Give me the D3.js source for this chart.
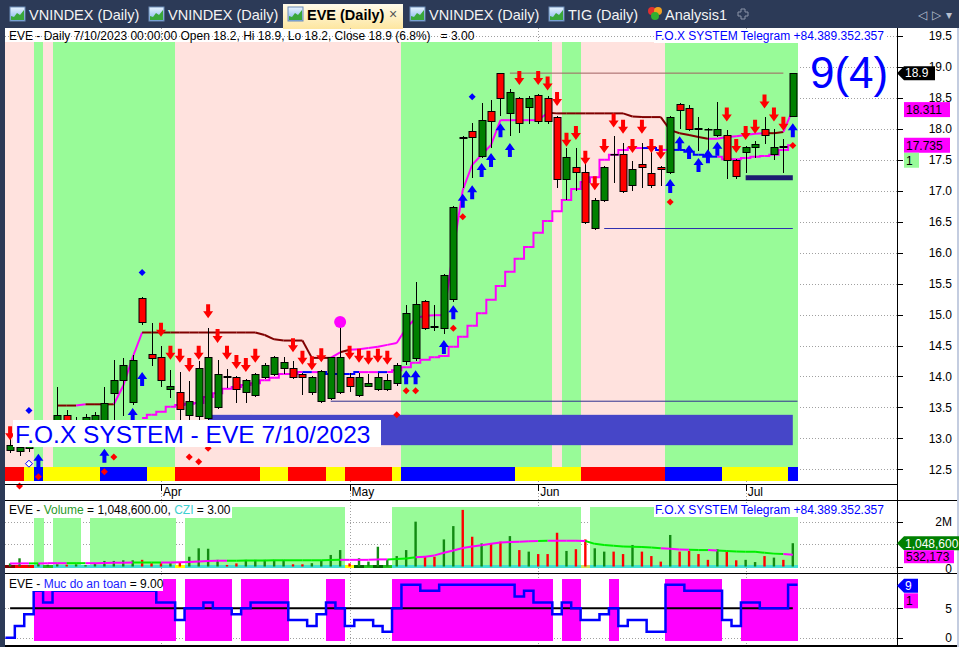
<!DOCTYPE html>
<html lang="en">
<head>
<meta charset="UTF-8">
<script src="https://d3js.org/d3.v7.min.js"></script>
<style>
  body { margin: 0; background: #fff; }
  svg { display: block; font-family: "Liberation Sans", Arial, sans-serif; }
</style>
</head>
<body>
<svg id="chart" width="959" height="647"></svg>
<script>
// ---------- data ----------
const dates = [
  "2023-03-10","2023-03-13","2023-03-14","2023-03-15","2023-03-16","2023-03-17","2023-03-20","2023-03-21","2023-03-22","2023-03-23",
  "2023-03-24","2023-03-27","2023-03-28","2023-03-29","2023-03-30","2023-03-31","2023-04-03","2023-04-04","2023-04-05","2023-04-06",
  "2023-04-07","2023-04-10","2023-04-11","2023-04-12","2023-04-13","2023-04-14","2023-04-17","2023-04-18","2023-04-19","2023-04-20",
  "2023-04-21","2023-04-24","2023-04-25","2023-04-26","2023-04-27","2023-04-28","2023-05-04","2023-05-05","2023-05-08","2023-05-09",
  "2023-05-10","2023-05-11","2023-05-12","2023-05-15","2023-05-16","2023-05-17","2023-05-18","2023-05-19","2023-05-22","2023-05-23",
  "2023-05-24","2023-05-25","2023-05-26","2023-05-29","2023-05-30","2023-05-31","2023-06-01","2023-06-02","2023-06-05","2023-06-06",
  "2023-06-07","2023-06-08","2023-06-09","2023-06-12","2023-06-13","2023-06-14","2023-06-15","2023-06-16","2023-06-19","2023-06-20",
  "2023-06-21","2023-06-22","2023-06-23","2023-06-26","2023-06-27","2023-06-28","2023-06-29","2023-06-30","2023-07-03","2023-07-04",
  "2023-07-05","2023-07-06","2023-07-07","2023-07-10"];

const open = [12.81,12.8,12.85,13.0,13.1,13.25,13.38,13.2,13.25,13.25, 13.3,13.74,13.94,13.59,15.27,14.36,14.31,13.8,13.75,13.38,
  13.36,13.33,13.51,14.0,13.99,13.75,13.7,13.99,14.04,14.14, 14.14,14.04,13.75,13.6,13.65,13.75,13.99,13.7,13.85,13.8,
  13.8,13.89,14.25,14.3,15.22,14.81,14.78,15.25,17.87,17.97, 17.56,18.29,18.9,18.26,18.5,18.35,18.55,18.5,18.19,17.19,
  17.38,17.3,16.4,16.85,17.6,17.59,17.09,17.43,17.29,17.38, 17.3,18.4,18.34,18.01,18.0,17.9,17.9,17.5,17.63,17.71,
  18.0,17.59,17.72,18.2];
const high = [13.0,12.9,13.05,13.15,13.3,13.83,13.46,13.35,13.4,13.42, 13.83,14.27,14.3,14.35,15.28,14.86,14.49,14.1,14.07,13.92,
  14.25,14.78,14.27,14.12,14.0,13.96,14.06,14.22,14.33,14.31, 14.25,14.05,14.0,14.1,14.32,14.86,14.06,14.06,14.04,14.06,
  14.04,14.22,15.15,15.53,15.23,15.15,15.66,16.76,17.88,18.09, 18.42,18.47,18.9,18.64,18.52,18.53,18.56,18.53,18.2,17.69,
  17.69,17.45,16.88,17.4,17.88,17.77,17.48,17.77,17.77,17.4, 18.2,18.41,18.39,18.19,18.02,18.43,17.98,17.51,17.72,17.8,
  18.19,18.0,17.84,18.9];
const low = [12.78,12.73,12.8,12.95,13.05,13.2,13.2,13.15,13.2,13.2, 13.2,13.3,13.38,13.55,14.85,14.18,13.85,13.67,13.31,13.31,
  13.31,13.3,13.49,13.83,13.59,13.59,13.68,13.98,14.02,14.06, 13.98,13.72,13.72,13.58,13.63,13.73,13.77,13.69,13.84,13.78,
  13.78,13.86,14.2,14.27,14.77,14.75,14.7,15.22,17.06,17.22, 17.54,17.71,18.22,17.9,17.95,18.09,18.09,18.09,17.06,16.87,
  17.01,16.48,16.38,16.83,17.14,16.98,17.01,17.06,17.06,17.09, 17.28,18.01,17.98,17.66,17.66,17.89,17.21,17.21,17.3,17.55,
  17.77,17.51,17.3,18.2];
const close = [12.9,12.86,13.0,13.1,13.2,13.38,13.25,13.3,13.35,13.38, 13.57,13.94,14.18,14.27,14.88,14.3,13.94,13.85,13.47,13.6,
  14.14,14.31,14.04,13.99,13.8,13.94,14.04,14.18,14.31,14.23, 13.99,13.99,13.99,14.09,14.31,14.31,13.85,13.99,13.9,13.99,
  13.94,14.18,15.03,15.17,14.78,14.8,15.64,16.74,17.86,17.87, 18.14,18.13,18.5,18.6,18.09,18.5,18.13,18.13,17.19,17.55,
  17.3,16.5,16.85,17.38,17.59,17.0,17.35,17.38,17.09,17.35, 18.19,18.3,18.0,18.0,17.99,18.0,17.5,17.24,17.71,17.76,
  17.9,17.71,17.71,18.9];

// volume in millions and its average
const volume = [0.14,0.37,0.05,0.14,0.08,0.1,0.08,0.1,0.06,0.15, 0.25,0.25,0.28,0.28,0.3,0.15,0.15,0.15,0.2,0.44,
  0.82,0.8,0.3,0.07,0.14,0.3,0.3,0.3,0.3,0.3, 0.1,0.1,0.15,0.27,0.52,0.74,0.14,0.37,0.22,0.89,
  0.3,0.47,0.74,2.02,0.47,0.44,1.22,1.82,2.55,1.34, 1.04,1.04,1.12,1.37,0.74,0.67,0.56,0.56,1.52,0.7,
  0.78,1.22,0.82,0.67,0.67,0.56,0.97,0.67,0.47,0.22, 1.42,0.67,0.7,0.56,0.3,0.78,0.67,0.28,0.3,0.2,
  0.47,0.4,0.3,1.0486];
const volAvg = [0.13,0.14,0.14,0.14,0.15,0.15,0.15,0.15,0.15,0.15, 0.16,0.17,0.17,0.18,0.18,0.18,0.18,0.18,0.19,0.2,
  0.22,0.25,0.26,0.26,0.26,0.27,0.27,0.27,0.28,0.28, 0.28,0.28,0.28,0.28,0.29,0.3,0.3,0.3,0.3,0.32,
  0.32,0.34,0.36,0.42,0.44,0.5,0.62,0.72,0.83,0.9, 0.96,1.02,1.08,1.1,1.12,1.14,1.15,1.16,1.16,1.16,
  1.16,1.15,1.02,0.97,0.93,0.9,0.89,0.88,0.86,0.82, 0.8,0.77,0.75,0.74,0.74,0.72,0.7,0.68,0.67,0.66,
  0.62,0.58,0.56,0.532173];
const volAvgColor = ("mmmgmmmggmmmmmgggmmmmmmmggggggggggggmmmmmgggmmmmmmmmmmmmmgmmmmggggggggmmmggmggggggg" + "m").split("");

// trailing lines in price pane
const trailUp = [null,null,null,null,null,13.53,13.53,13.53,13.55,13.55, 13.55,13.55,13.85,14.31,14.71,14.71,14.71,14.71,14.71,14.71,
  14.71,14.71,14.71,14.71,14.71,14.71,14.71,14.67,14.6,14.58, 14.58,14.58,14.3,14.3,14.3,14.39,14.43,14.44,14.46,14.48,
  14.51,14.54,14.78,14.94,14.98,14.99,14.99,16.04,17.01,17.42, 17.58,17.74,18.14,18.14,18.14,18.14,18.14,18.26,18.25,18.25,
  18.25,18.25,18.25,18.25,18.25,18.25,18.2,18.19,18.19,18.19, 17.98,17.93,17.9,17.87,17.84,17.84,17.87,17.88,17.9,17.92,
  17.93,17.93,17.95,18.311];
const trailUpColor = ("------rrmrrrmmm" + "rrrrrrrrrrrrrrrrrrrr" + "mr" + "mmmmmmmmmmmmmmmmmmmmm" + "rrrrrrrrrrrrrrrrr" + "mmmmmm" + "rrm").split("");
const trailLo = [null,null,null,null,null,null,null,null,null,null, null,null,null,null,13.33,13.38,13.43,13.51,13.54,13.56,
  13.57,13.67,13.73,13.8,13.83,13.86,13.89,13.94,13.98,14.04, 14.04,14.07,14.07,14.07,14.04,14.04,14.04,14.07,14.07,14.07,
  14.07,14.1,14.15,14.22,14.27,14.31,14.33,14.48,14.64,14.82, 15.02,15.24,15.46,15.69,15.9,16.09,16.32,16.51,16.67,16.85,
  17.03,17.14,17.22,17.5,17.58,17.66,17.69,17.69,17.69,17.66, 17.66,17.66,17.63,17.58,17.55,17.55,17.51,17.51,17.53,17.55,
  17.56,17.58,17.66,17.735];
const trailLoColor = ("--------------" + "mmmmmmmmmmmmmmmmmm" + "bm" + "bbbb" + "mm" + "b" + "mmmmmmmmmmmmmmmmmmmmmmmmmmm" + "bb" + "m" + "bbbbb" + "mmmmmmmm").split("");

// safety level ("Muc do an toan")
const safety = [0,2,4,8,6,8,8,8,8,8, 8,8,8,8,8,8,6,6,3,5, 5,6,5,5,4,5,6,6,6,6,
  3,3,2,4,6,5,2,3,3,2, 1,5,9,9,8,8,9,9,9,9, 9,9,9,9,7,8,6,6,4,6,
  5,3,3,4,5,2,3,3,1,1, 9,9,8,8,8,8,3,2,6,6, 5,5,5,9];

// zone flags per bar
const priceZone = ("PPPGP" + "GGGGGGGGGGGGG" + "PPPPPPPPPPPPPPPPPPPPPPPP" + "GGGGGGGGGGGGGGGG" + "P" + "GG" + "PPPPPPPPP" + "GGGGGGGGGGGGGG").split("");
const volZone = ("WWWGW" + "GGG" + "W" + "GGGGGGGGG" + "W" + "GGGGGGGGGGGGGGGGG" + "WWWWW" + "GGGGGGGGGGGGGGGGGGGG" + "W" + "GGGGGGGGGGGGGGGGGGGGGG").split("");
const safeZone = ("WWW" + "MMMMMMMMMMMMMMM" + "W" + "MMMMM" + "W" + "MMMMM" + "WWWW" + "MM" + "WWWWW" + "MMMMMMMMMMMMMMMMM" + "W" + "MM" + "WWW" + "M" + "WWWWW" + "MMMMMM" + "WW" + "MMMMMM").split("");
const trendStrip = ("RRYB" + "YYYYYY" + "BBBBB" + "YYY" + "RRRRRRRRR" + "YYY" + "RRRR" + "YY" + "RRRRR" + "Y" + "BBBBBBBBBBBB" + "YYYYYYY" + "RRRRRRRRR" + "BBBBBB" + "YYYYYYY" + "B").split("");
const cziStrip = ("DRRcG" + "ccccccccccccc" + "Y" + "ccccccccccccccccc" + "YKGKG" + "cccccccccccccccccccc" + "L" + "cccccccccccccccccccccc").split("");

// signals: [bar, price]
const sellSignals = [[0,12.97],[16,14.64],[17,14.27],[18,14.22],[19,14.07],[20,14.27],[21,14.94],[22,14.54],[23,14.27],[24,14.12],
  [25,14.07],[26,14.22],[30,14.39],[31,14.19],[32,14.1],[33,14.23],[36,14.27],[37,14.22],[38,14.19],[39,14.22],[40,14.19],
  [54,18.71],[56,18.71],[57,18.62],[58,18.37],[59,17.71],[60,17.82],[61,17.42],[62,17.01],[63,17.61],[64,18.02],[65,17.92],
  [66,17.61],[67,17.92],[68,17.61],[69,17.51],[76,18.12],[77,17.61],[78,17.82],[79,17.92],[80,18.33],[81,18.12],[82,17.97]];
const buySignals = [[3,12.75],[10,12.83],[13,13.49],[14,14.07],[42,14.1],[43,14.1],[46,14.59],[47,15.15],[48,16.95],[49,17.09],
  [50,17.45],[51,17.61],[52,18.09],[53,17.77],[70,17.19],[71,17.88],[72,17.74],[73,17.53],[74,17.67],[75,17.79],[83,18.09]];
const redDots = [[1,12.23],[3,12.38],[10,12.46],[11,12.7],[19,12.7],[20,12.62],[21,12.84],[41,13.38],[42,13.77],[43,13.77],
  [47,14.78],[48,16.58],[70,16.82],[83,17.73]];
const blueDots = [[2,13.45],[14,15.68],[49,18.52]];
const hollowDots = [[2,12.59]];
const circleSignals = [[35,14.88]];

// levels: [fromBar, toBar, price]
const peakLevel = [53, 82, 18.9];
const floorLevel = [63, 83, 16.39];
const baseLevel = [34, 83.5, 13.6];
const stopLevel = [78, 83, 17.21];
const cloud = [21, 83, 13.38, 12.89];

const priceTicks = d3.range(12.5, 19.51, 0.5);

// ---------- drawing ----------
const W = 959, H = 647;
const svg = d3.select("#chart");
const defs = svg.append("defs");
const tg = defs.append("linearGradient").attr("id", "tabGrad").attr("x1", 0).attr("y1", 0).attr("x2", 0).attr("y2", 1);
tg.append("stop").attr("offset", "0%").attr("stop-color", "#fffbea");
tg.append("stop").attr("offset", "100%").attr("stop-color", "#fde6a0");
const ig = defs.append("linearGradient").attr("id", "icoGrad").attr("x1", 0).attr("y1", 0).attr("x2", 0).attr("y2", 1);
ig.append("stop").attr("offset", "0%").attr("stop-color", "#e8f4ff");
ig.append("stop").attr("offset", "100%").attr("stop-color", "#7fb2ea");

const x = d3.scaleLinear().domain([0, dates.length - 1]).range([10.1, 792.8]);
const step = x(1) - x(0);
const yP = d3.scaleLinear().domain([12.5, 19.5]).range([469.3, 36]);
const yV = d3.scaleLinear().domain([0, 2]).range([566.5, 522.1]);
const yS = d3.scaleLinear().domain([0, 9]).range([637.7, 584.8]);
const AX = 897;

svg.append("rect").attr("width", W).attr("height", H).attr("fill", "#fff");

// tab bar
svg.append("rect").attr("width", W).attr("height", 28).attr("fill", "#2c3a57");
svg.append("rect").attr("x", 0).attr("y", 28).attr("width", 5).attr("height", H - 28).attr("fill", "#2c3a57");
svg.append("rect").attr("x", 283).attr("y", 4).attr("width", 120).attr("height", 25).attr("fill", "url(#tabGrad)");

const tabs = [
  {label: "VNINDEX (Daily)", x: 10}, {label: "VNINDEX (Daily)", x: 149},
  {label: "EVE (Daily)", x: 288, active: true}, {label: "VNINDEX (Daily)", x: 410}, {label: "TIG (Daily)", x: 549}];
tabs.forEach(t => {
  const ic = svg.append("g").attr("transform", `translate(${t.x},7)`);
  ic.append("rect").attr("width", 15).attr("height", 14).attr("fill", "url(#icoGrad)").attr("stroke", "#6b8cb8");
  ic.append("path").attr("d", "M1,13 L1,9 L4,10 L7,6 L10,8 L14,3 L14,13 Z").attr("fill", "#3aa83a");
  svg.append("text").attr("x", t.x + 19).attr("y", 19.5)
    .attr("font-size", "14.5px")
    .attr("font-weight", t.active ? "bold" : "normal")
    .attr("fill", t.active ? "#000" : "#f4f4f4").text(t.label);
});
svg.append("text").attr("x", 389).attr("y", 19).attr("font-size", "14px").attr("fill", "#555").text("×");
const an = svg.append("g");
an.append("circle").attr("cx", 652).attr("cy", 11).attr("r", 4).attr("fill", "#e03030");
an.append("circle").attr("cx", 658).attr("cy", 11).attr("r", 4).attr("fill", "#f0a020");
an.append("circle").attr("cx", 655).attr("cy", 16).attr("r", 4).attr("fill", "#30b030");
svg.append("text").attr("x", 665).attr("y", 19.5).attr("font-size", "14.5px").attr("fill", "#f4f4f4").text("Analysis1");
svg.append("path").attr("d", "M741,9 h4 v3 h3 v4 h-3 v3 h-4 v-3 h-3 v-4 h3 Z")
  .attr("fill", "none").attr("stroke", "#8a93a8");
svg.append("text").attr("x", 918).attr("y", 19).attr("font-size", "12px").attr("fill", "#b8c0d0").text("◁");
svg.append("text").attr("x", 932).attr("y", 19).attr("font-size", "12px").attr("fill", "#b8c0d0").text("▷");
svg.append("text").attr("x", 946).attr("y", 19).attr("font-size", "12px").attr("fill", "#b8c0d0").text("▾");

// grids
const grid = svg.append("g").attr("stroke", "#a0a0a0").attr("stroke-dasharray", "1,2");
priceTicks.forEach(t => grid.append("line").attr("x1", 5).attr("x2", AX).attr("y1", Math.round(yP(t)) + 0.5).attr("y2", Math.round(yP(t)) + 0.5));
[0, 1, 2].forEach(t => grid.append("line").attr("x1", 5).attr("x2", AX).attr("y1", Math.round(yV(t)) + 0.5).attr("y2", Math.round(yV(t)) + 0.5));
[0, 5].forEach(t => grid.append("line").attr("x1", 5).attr("x2", AX).attr("y1", Math.round(yS(t)) + 0.5).attr("y2", Math.round(yS(t)) + 0.5));
const monthStarts = [];
dates.forEach((d, i) => { if (i > 0 && d.slice(5, 7) !== dates[i - 1].slice(5, 7)) monthStarts.push(i); });
monthStarts.forEach(i => grid.append("line").attr("x1", Math.round(x(i)) + 0.5).attr("x2", Math.round(x(i)) + 0.5).attr("y1", 28).attr("y2", 646));

// zone bands
function bands(codes, colors, y0, y1) {
  svg.append("g").attr("shape-rendering", "crispEdges").selectAll("rect")
    .data(codes.map((c, i) => ({c, i})).filter(d => colors[d.c]))
    .join("rect")
    .attr("x", d => x(d.i) - step / 2).attr("width", step + 0.4)
    .attr("y", y0).attr("height", y1 - y0)
    .attr("fill", d => colors[d.c]);
}
bands(priceZone, {G: "#98fb98", P: "#ffe2de"}, 42, 467);
bands(trendStrip, {R: "#ff0000", Y: "#ffff00", B: "#0000ff"}, 467, 481);
bands(volZone, {G: "#98fb98"}, 507, 565);
bands(cziStrip, {c: "#40e0d0", D: "#800000", R: "#ff0000", G: "#20c020", K: "#006400", Y: "#ffff00", L: "#c8e060"}, 565, 568);
bands(safeZone, {M: "#ff00ff"}, 579, 641);

// cloud & levels
svg.append("rect").attr("x", x(cloud[0])).attr("width", x(cloud[1]) - x(cloud[0]))
  .attr("y", yP(cloud[2])).attr("height", yP(cloud[3]) - yP(cloud[2])).attr("fill", "#4646c8");
function level(lv, color, w) {
  svg.append("line").attr("x1", x(lv[0])).attr("x2", x(lv[1]))
    .attr("y1", yP(lv[2])).attr("y2", yP(lv[2])).attr("stroke", color).attr("stroke-width", w);
}
level(peakLevel, "#a06060", 1);
level(floorLevel, "#3030b0", 1.2);
level(baseLevel, "#303090", 1);
level(stopLevel, "#1c1c70", 5);

// trailing lines
const lineColors = {r: "#800000", m: "#ff00ff", b: "#0000ff", g: "#00ee00"};
const lin = d3.line().x(d => x(d[0])).y(d => d[1]);
trailUp.forEach((v, i) => {
  if (i === 0 || v == null || trailUp[i - 1] == null) return;
  svg.append("path").attr("d", lin([[i - 1, yP(trailUp[i - 1])], [i, yP(v)]]))
    .attr("fill", "none").attr("stroke", lineColors[trailUpColor[i]]).attr("stroke-width", 2);
});
const stepLine = d3.line().x(d => x(d[0])).y(d => d[1]).curve(d3.curveStep);
trailLo.forEach((v, i) => {
  if (i === 0 || v == null || trailLo[i - 1] == null) return;
  svg.append("path").attr("d", stepLine([[i - 1, yP(trailLo[i - 1])], [i, yP(v)]]))
    .attr("fill", "none").attr("stroke", lineColors[trailLoColor[i]]).attr("stroke-width", 2);
});

// candles
const candles = svg.append("g");
dates.forEach((d, i) => {
  const cx = Math.round(x(i)) + 0.5;
  candles.append("line").attr("x1", cx).attr("x2", cx)
    .attr("y1", Math.round(yP(high[i]))).attr("y2", Math.round(yP(low[i])) + 1)
    .attr("stroke", "#000");
  const top = Math.round(yP(Math.max(open[i], close[i]))) + 0.5;
  const bot = Math.round(yP(Math.min(open[i], close[i]))) + 0.5;
  candles.append("rect").attr("x", cx - 3.5).attr("width", 7)
    .attr("y", top).attr("height", Math.max(0.5, bot - top))
    .attr("fill", close[i] >= open[i] ? "#008000" : "#ff0000").attr("stroke", "#000");
});

// signals
const downArrow = "M-2,-14 H2 V-7 H5 L0,0 L-5,-7 H-2 Z";
const upArrow = "M-2,14 H2 V7 H5 L0,0 L-5,7 H-2 Z";
const diamond = "M0,-3.5 L3.5,0 L0,3.5 L-3.5,0 Z";
sellSignals.forEach(([i, p]) => svg.append("path").attr("d", downArrow)
  .attr("transform", `translate(${x(i)},${yP(p)})`).attr("fill", "#ff0000"));
buySignals.forEach(([i, p]) => svg.append("path").attr("d", upArrow)
  .attr("transform", `translate(${x(i)},${yP(p)})`).attr("fill", "#0000ff"));
redDots.forEach(([i, p]) => svg.append("path").attr("d", diamond)
  .attr("transform", `translate(${x(i)},${yP(p)})`).attr("fill", "#ff0000"));
blueDots.forEach(([i, p]) => svg.append("path").attr("d", diamond)
  .attr("transform", `translate(${x(i)},${yP(p)})`).attr("fill", "#0000ff"));
hollowDots.forEach(([i, p]) => svg.append("path").attr("d", diamond)
  .attr("transform", `translate(${x(i)},${yP(p)})`).attr("fill", "#fff").attr("stroke", "#0000ff"));
circleSignals.forEach(([i, p]) => svg.append("circle").attr("cx", x(i)).attr("cy", yP(p)).attr("r", 6).attr("fill", "#ff00ff"));

// overlay texts in price pane
svg.append("rect").attr("x", 13).attr("y", 420).attr("width", 368).attr("height", 27).attr("fill", "#fff");
svg.append("text").attr("x", 15).attr("y", 443).attr("font-size", "24.5px").attr("fill", "#0000ff").text("F.O.X SYSTEM - EVE 7/10/2023");
svg.append("text").attr("x", 810).attr("y", 88).attr("font-size", "44px").attr("fill", "#0000ff").text("9(4)");
svg.append("text").attr("x", 9).attr("y", 39.5).attr("font-size", "12px").attr("fill", "#000")
  .text("EVE - Daily 7/10/2023 00:00:00 Open 18.2, Hi 18.9, Lo 18.2, Close 18.9 (6.8%)\u00a0\u00a0\u00a0= 3.00");
function telegram(y) {
  svg.append("rect").attr("x", 654).attr("y", y - 11).attr("width", 233).attr("height", 14).attr("fill", "#fff");
  svg.append("text").attr("x", 655).attr("y", y).attr("font-size", "12px").attr("fill", "#0000ff")
    .text("F.O.X SYSTEM Telegram +84.389.352.357");
}
telegram(40);

// volume pane
const vol = svg.append("g");
volume.forEach((v, i) => vol.append("rect").attr("x", x(i) - 1.2).attr("width", 2.4)
  .attr("y", yV(v)).attr("height", yV(0) - yV(v))
  .attr("fill", close[i] >= open[i] ? "#128a12" : "#ff0000"));
volAvg.forEach((v, i) => {
  if (i === 0) return;
  svg.append("path").attr("d", lin([[i - 1, yV(volAvg[i - 1])], [i, yV(v)]]))
    .attr("fill", "none").attr("stroke", volAvgColor[i] === "g" ? "#00ee00" : "#ff00ff").attr("stroke-width", 2);
});
svg.append("rect").attr("x", 6).attr("y", 503).attr("width", 226).attr("height", 15).attr("fill", "#fff");
const vt = svg.append("text").attr("x", 9).attr("y", 514).attr("font-size", "12px");
vt.append("tspan").attr("fill", "#000").text("EVE - ");
vt.append("tspan").attr("fill", "#2a9a2a").text("Volume");
vt.append("tspan").attr("fill", "#000").text(" = 1,048,600.00, ");
vt.append("tspan").attr("fill", "#40d0d0").text("CZI");
vt.append("tspan").attr("fill", "#000").text(" = 3.00");
telegram(514);

// safety pane
const stepPts = [];
safety.forEach((v, i) => { stepPts.push([x(i) - step / 2, yS(v)], [x(i) + step / 2, yS(v)]); });
svg.append("line").attr("x1", x(0)).attr("x2", x(dates.length - 1)).attr("y1", yS(5)).attr("y2", yS(5))
  .attr("stroke", "#000").attr("stroke-width", 2);
svg.append("path").attr("d", d3.line()(stepPts)).attr("fill", "none").attr("stroke", "#0000ff").attr("stroke-width", 2.5);
svg.append("rect").attr("x", 6).attr("y", 576).attr("width", 157).attr("height", 15).attr("fill", "#fff");
const st = svg.append("text").attr("x", 9).attr("y", 587.5).attr("font-size", "12px");
st.append("tspan").attr("fill", "#000").text("EVE - ");
st.append("tspan").attr("fill", "#2020ff").text("Muc do an toan");
st.append("tspan").attr("fill", "#000").text(" = 9.00");

// frames and axes
const fr = svg.append("g").attr("stroke", "#000").attr("shape-rendering", "crispEdges");
fr.append("line").attr("x1", 5).attr("x2", AX).attr("y1", 484.5).attr("y2", 484.5);
[500.5, 573.5, 646].forEach(y => fr.append("line").attr("x1", 5).attr("x2", W).attr("y1", y).attr("y2", y).attr("stroke-width", 1.5));
fr.append("line").attr("x1", AX + 0.5).attr("x2", AX + 0.5).attr("y1", 28).attr("y2", H);
svg.append("rect").attr("x", 957).attr("y", 28).attr("width", 2).attr("height", H - 28).attr("fill", "#c4cde0");

const fmt = d3.format(".1f");
priceTicks.forEach(t => {
  fr.append("line").attr("x1", AX).attr("x2", AX + 6).attr("y1", Math.round(yP(t)) + 0.5).attr("y2", Math.round(yP(t)) + 0.5);
  svg.append("text").attr("x", 952).attr("y", yP(t)).attr("dy", "0.36em").attr("text-anchor", "end")
    .attr("font-size", "12px").text(fmt(t));
});
monthStarts.forEach(i => {
  fr.append("line").attr("x1", Math.round(x(i)) + 0.5).attr("x2", Math.round(x(i)) + 0.5).attr("y1", 484).attr("y2", 491);
  svg.append("text").attr("x", x(i) + 2).attr("y", 496).attr("font-size", "12px")
    .text(d3.timeFormat("%b")(d3.timeParse("%Y-%m-%d")(dates[i])));
});
[[2, "2M", 0], [0, "0", 2]].forEach(([v, s, off]) => {
  fr.append("line").attr("x1", AX).attr("x2", AX + 6).attr("y1", Math.round(yV(v)) + 0.5).attr("y2", Math.round(yV(v)) + 0.5);
  svg.append("text").attr("x", 952).attr("y", yV(v) + off).attr("dy", "0.36em").attr("text-anchor", "end").attr("font-size", "12px").text(s);
});
[5, 0].forEach(v => {
  fr.append("line").attr("x1", AX).attr("x2", AX + 6).attr("y1", Math.round(yS(v)) + 0.5).attr("y2", Math.round(yS(v)) + 0.5);
  svg.append("text").attr("x", 952).attr("y", yS(v)).attr("dy", "0.36em").attr("text-anchor", "end").attr("font-size", "12px").text(v);
});

// value labels on the axis
function pointer(y, right, txt, bg, fg) {
  svg.append("path").attr("d", `M${AX},${y} L${AX + 7},${y - 7} H${right} V${y + 7} H${AX + 7} Z`).attr("fill", bg);
  svg.append("text").attr("x", AX + 8).attr("y", y).attr("dy", "0.36em").attr("font-size", "12px").attr("fill", fg).text(txt);
}
function tag(y, right, txt, bg, fg, h = 15) {
  svg.append("rect").attr("x", 904).attr("y", y - h / 2).attr("width", right - 904).attr("height", h).attr("fill", bg);
  svg.append("text").attr("x", 906).attr("y", y).attr("dy", "0.36em").attr("font-size", "12px").attr("fill", fg).text(txt);
}
const last = dates.length - 1;
pointer(yP(close[last]), 935, fmt(close[last]), "#000", "#fff");
tag(yP(trailUp[last]), 950, trailUp[last].toFixed(3), "#ff00ff", "#000");
tag(yP(trailLo[last]), 950, trailLo[last].toFixed(3), "#ff00ff", "#000");
tag(yP(trailLo[last]) + 15, 919, "1", "#98fb98", "#000");
pointer(yV(volume[last]), 959, d3.format(",")(Math.round(volume[last] * 1e6)), "#008000", "#fff");
tag(yV(volume[last]) + 13.5, 954, d3.format(",")(Math.round(volAvg[last] * 1e6)), "#ff00ff", "#000", 13);
pointer(yS(safety[last]) + 1, 918, String(safety[last]), "#0000ff", "#fff");
tag(yS(safety[last]) + 16, 918, "1", "#ff00ff", "#000");
</script>
</body>
</html>
